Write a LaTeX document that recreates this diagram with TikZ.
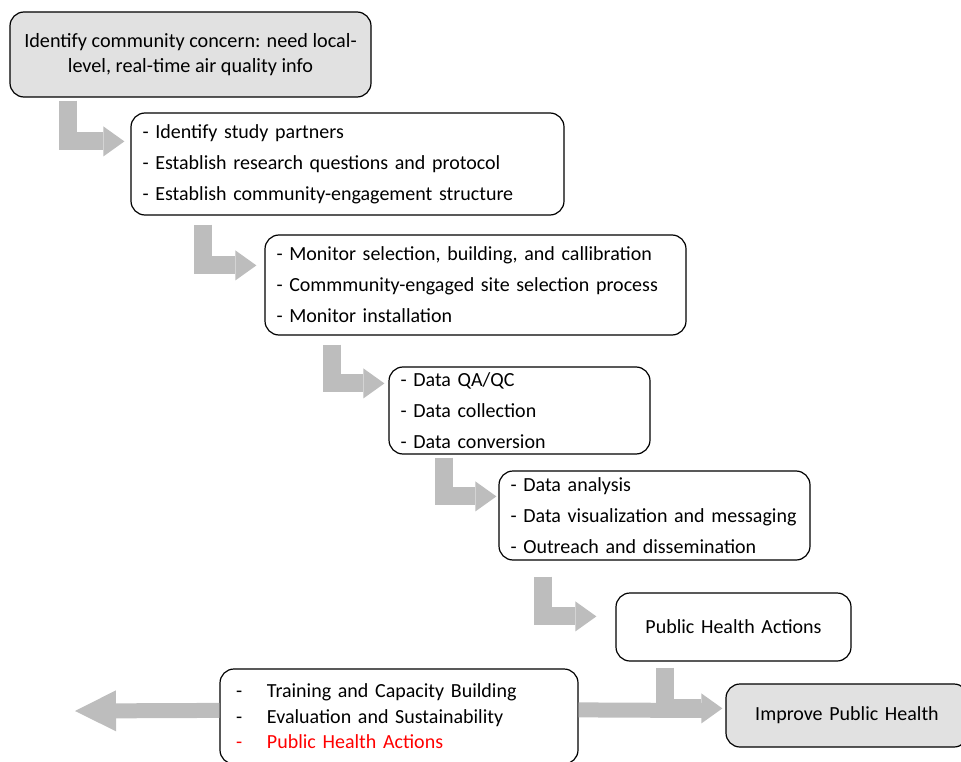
\documentclass[tikz,border=0pt]{standalone}
\usepackage{fontspec}
\setmainfont{Carlito}
\usepackage{tikz}
\usetikzlibrary{arrows.meta}

\definecolor{boxgray}{HTML}{E1E1E1}
\definecolor{arrowgray}{HTML}{BDBDBD}

\tikzset{
  stage/.style={draw, line width=1.2pt, rounded corners=14pt, inner xsep=11.5pt, inner ysep=0pt,
    align=left, font=\fontsize{20}{31}\selectfont},
  bent/.style={draw=arrowgray, line width=18pt, line join=miter,
    -{Triangle[length=21pt,width=30pt,line width=0pt]}},
  feed/.style={draw=arrowgray, line width=15pt},
  back/.style={draw=arrowgray, line width=15pt, -{Triangle[length=41pt,width=41pt,line width=0pt]}}
}

\begin{document}
\begin{tikzpicture}[x=1pt,y=-1pt]
        \useasboundingbox (0,0) rectangle (961,762);

         % stages
        \node[stage, fill=boxgray, align=center, minimum width=361pt, minimum height=85pt,
          font=\fontsize{20.2}{25}\selectfont] (concern) at (190.5,54.5)
          {Identify community concern: need local-\\level, real-time air quality info};
        \node[stage, text width=410pt, minimum height=102pt] (partners) at (347.5,164)
          {- Identify study partners\\- Establish research questions and protocol\\- Establish community-engagement structure};
        \node[stage, text width=398pt, minimum height=100pt] (monitor) at (475.5,285)
          {- Monitor selection, building, and callibration\\- Commmunity-engaged site selection process\\- Monitor installation};
        \node[stage, text width=238pt, minimum height=87pt] (dataqc) at (519.5,410.5)
          {- Data QA/QC\\- Data collection\\- Data conversion};
        \node[stage, text width=288pt, minimum height=89pt] (analysis) at (654.5,515.5)
          {- Data analysis\\- Data visualization and messaging\\- Outreach and dissemination};
        \node[stage, align=center, text width=212pt, minimum height=68pt] (pha) at (733.5,627)
          {Public Health Actions};

         % bottom row
        \node[stage, inner xsep=16pt, text width=326pt, minimum height=95pt,
          font=\fontsize{20}{25.5}\selectfont] (actlist) at (399,716.5)
          {\makebox[31pt][l]{-}Training and Capacity Building\\
           \makebox[31pt][l]{-}Evaluation and Sustainability\\
           \textcolor{red}{\makebox[31pt][l]{-}Public Health Actions}};
        \node[stage, fill=boxgray, align=center, text width=219pt, minimum height=63pt] (improve) at (847,715.5)
          {Improve Public Health};

         % bent arrows
        \draw[bent] ([xshift=59pt,yshift=-3pt]concern.south west) |- ([xshift=-6pt,yshift=-29pt]partners.north west);
        \draw[bent] ([xshift=73pt,yshift=-9pt]partners.south west) |- ([xshift=-8pt,yshift=-31pt]monitor.north west);
        \draw[bent] ([xshift=67.5pt,yshift=-9pt]monitor.south west) |- ([xshift=-4pt,yshift=-17pt]dataqc.north west);
        \draw[bent] ([xshift=55.5pt,yshift=-3pt]dataqc.south west) |- ([xshift=-2pt,yshift=-26pt]analysis.north west);
        \draw[bent] ([xshift=44.5pt,yshift=-16pt]analysis.south west) |- ([xshift=-19pt,yshift=-24pt]pha.north west);
        \draw[bent] ([xshift=50pt,yshift=-6pt]pha.south west) |- ([xshift=-3pt,yshift=-25pt]improve.north west);

         % feed into improve, and back out to the left
        \coordinate (join) at (704,710.5);
        \draw[feed] ([yshift=-41.5pt]actlist.north east) -- (join);
        \coordinate (out) at (75,711);
        \draw[back] ([yshift=-42pt]actlist.north west) -- (out);
      \end{tikzpicture}
\end{document}
